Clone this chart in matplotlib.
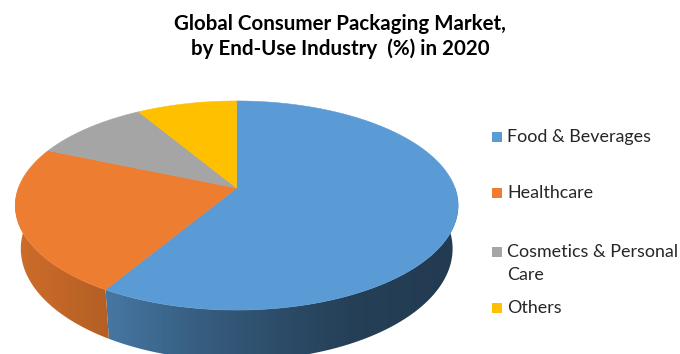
import numpy as np
import matplotlib
matplotlib.use("Agg")
import matplotlib.pyplot as plt
from matplotlib.patches import Polygon, Rectangle

# chart data (share in %, clockwise from 12 o'clock)
categories = ["Food & Beverages", "Healthcare", "Cosmetics & Personal\nCare", "Others"]
shares = [58.6, 22.8, 10.0, 8.6]
colors = ["#5B9BD5", "#ED7D31", "#A5A5A5", "#FFC000"]
title = "Global Consumer Packaging Market,\nby End-Use Industry  (%) in 2020"

# pie geometry in pixel units (perspective tilted disk)
cx, cy = 236.7, 188.0
rx, ry = 218.3, 101.6
persp = 0.1675
depth = 42.0
shrink = 0.975


def top_pt(t):
    c, s = np.cos(t), np.sin(t)
    k = 1.0 / (1.0 + persp * s)
    return cx + rx * c * k, cy - ry * s * k


def bottom_pt(t):
    x, y = top_pt(t)
    k = 1.0 / (1.0 + persp * np.sin(t))
    return cx + (x - cx) * shrink, y + depth * k


def shade(x):
    # lighting factor across the side wall, lighter on the left
    return np.interp(x, [15, 110, 200, 280, 350, 460],
                     [0.87, 0.76, 0.60, 0.49, 0.41, 0.38])


fig = plt.figure(figsize=(6.8, 3.54), dpi=100)
ax = fig.add_axes([0, 0, 1, 1])
ax.set_xlim(0, 680)
ax.set_ylim(354, 0)
ax.axis("off")

fracs = np.array(shares) / np.sum(shares)
edges = np.pi / 2 - 2 * np.pi * np.concatenate([[0], np.cumsum(fracs)])

# side walls (front half only)
front = (-np.pi, 0.0)
for i in range(len(shares)):
    hi, lo = edges[i], edges[i + 1]
    a, b = max(lo, front[0]), min(hi, front[1])
    if b <= a:
        continue
    t = np.linspace(a, b, 200)
    tx, ty = top_pt(t)
    bx, by = bottom_pt(t[::-1])
    xs = np.concatenate([tx, bx])
    ys = np.concatenate([ty, by])
    poly = Polygon(np.column_stack([xs, ys]), closed=True,
                   facecolor="none", edgecolor="none")
    ax.add_patch(poly)
    x0, x1 = xs.min(), xs.max()
    y0, y1 = ys.min(), ys.max()
    col = np.array(matplotlib.colors.to_rgb(colors[i]))
    gx = np.linspace(x0, x1, 300)
    img = (shade(gx)[:, None] * col[None, :])[None, :, :]
    im = ax.imshow(img, extent=(x0, x1, y1, y0), aspect="auto",
                   interpolation="bilinear", zorder=1)
    im.set_clip_path(poly)

# top faces
for i in range(len(shares)):
    t = np.linspace(edges[i], edges[i + 1], 200)
    tx, ty = top_pt(t)
    pts = np.column_stack([np.concatenate([[cx], tx]), np.concatenate([[cy], ty])])
    ax.add_patch(Polygon(pts, closed=True, facecolor=colors[i],
                         edgecolor=colors[i], linewidth=0.4, zorder=2))

ax.set_xlim(0, 680)
ax.set_ylim(354, 0)

ax.text(340, 36.5, title, ha="center", va="center", fontsize=14.8,
        fontweight="bold", family="Lato", linespacing=1.3, color="#000000")

# legend
row_y = [136.7, 193.3, 251.7, 308.0]
for lab, c, y in zip(categories, colors, row_y):
    ax.add_patch(Rectangle((491.7, y - 5), 10, 10, facecolor=c, edgecolor="none"))
    ax.text(507, y, lab.split("\n")[0], ha="left", va="center", fontsize=12.9,
            family="Lato", color="#262626")
    if "\n" in lab:
        ax.text(507, y + 23.3, lab.split("\n")[1], ha="left", va="center",
                fontsize=12.9, family="Lato", color="#262626")

fig.savefig("out.png", dpi=100)
